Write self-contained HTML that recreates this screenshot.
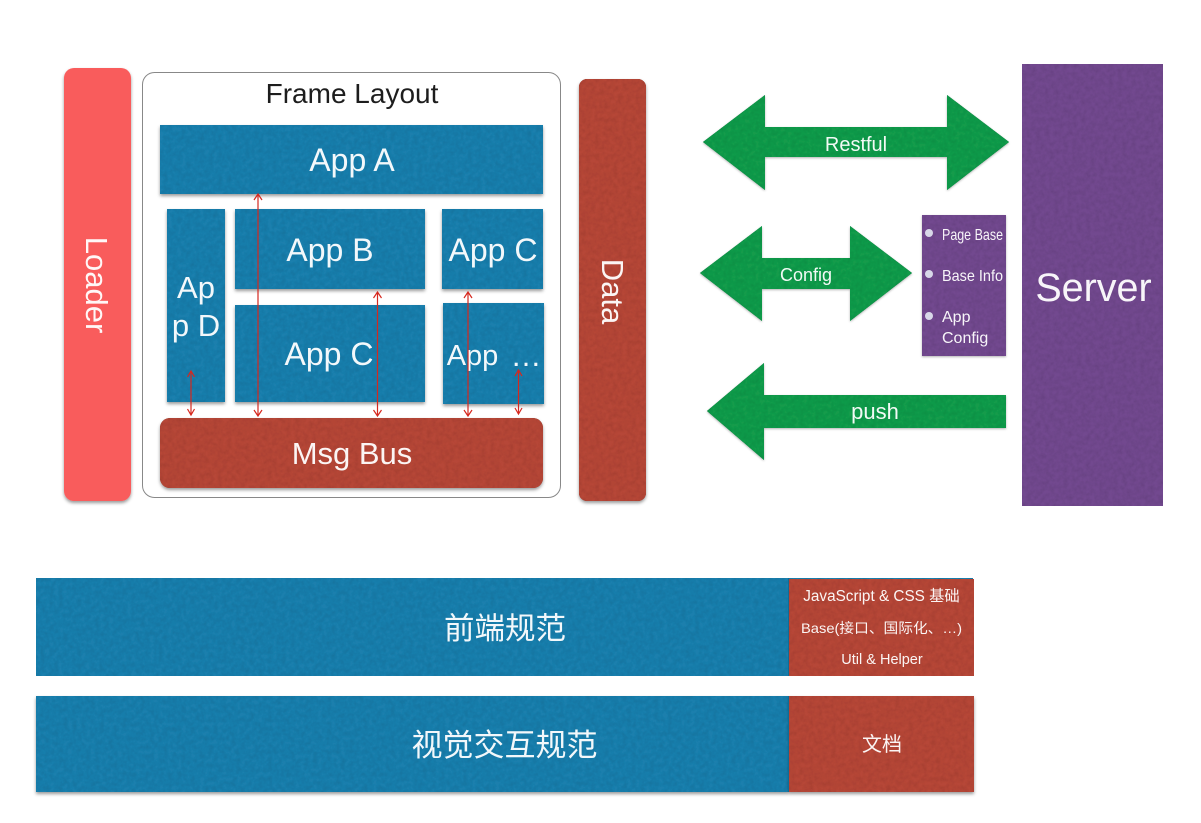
<!DOCTYPE html>
<html><head><meta charset="utf-8"><style>
html,body{margin:0;padding:0;background:#fff;width:1201px;height:823px;overflow:hidden}
svg{display:block}
text{fill:#fff;fill-opacity:.95;font-family:"Liberation Sans","Noto Sans CJK SC",sans-serif;text-anchor:middle}
.b{fill:#1b7fad;filter:url(#s)}.r{fill:#b64737;filter:url(#s)}.g{fill:#149b4b;filter:url(#g)}.p{fill:#72488f}
.a{stroke:#d6281e;stroke-width:1.2;fill:none}
</style></head><body>
<svg width="1201" height="823" viewBox="0 0 1201 823" xmlns="http://www.w3.org/2000/svg">
<defs>
<filter id="d" x="-10%" y="-10%" width="120%" height="120%">
<feDropShadow dx="0" dy="2" stdDeviation="1.500" flood-color="#000" flood-opacity=".4"/>
</filter>
<filter id="s" x="-10%" y="-10%" width="120%" height="120%">
<feTurbulence type="fractalNoise" baseFrequency=".22" numOctaves="3" seed="4" result="n"/>
<feColorMatrix in="n" type="matrix" values="0 0 0 0 0 0 0 0 0 0 0 0 0 0 0 .3 0 0 0 -.1" result="m"/>
<feComposite in="m" in2="SourceAlpha" operator="in" result="t"/>
<feDropShadow in="SourceAlpha" dx="0" dy="2" stdDeviation="1.500" flood-color="#000" flood-opacity=".4" result="sh"/>
<feMerge><feMergeNode in="sh"/><feMergeNode in="SourceGraphic"/><feMergeNode in="t"/></feMerge>
</filter>
<filter id="f" x="-5%" y="-5%" width="110%" height="110%">
<feTurbulence type="fractalNoise" baseFrequency=".22" numOctaves="3" seed="9" result="n"/>
<feColorMatrix in="n" type="matrix" values="0 0 0 0 0 0 0 0 0 0 0 0 0 0 0 .3 0 0 0 -.1" result="m"/>
<feComposite in="m" in2="SourceAlpha" operator="in" result="t"/>
<feMerge><feMergeNode in="SourceGraphic"/><feMergeNode in="t"/></feMerge>
</filter>
<filter id="g" x="-5%" y="-5%" width="110%" height="110%">
<feTurbulence type="fractalNoise" baseFrequency=".25" numOctaves="3" seed="2" result="n"/>
<feColorMatrix in="n" type="matrix" values="0 0 0 0 0 0 0 0 0 0 0 0 0 0 0 .3 0 0 0 -.1" result="m"/>
<feComposite in="m" in2="SourceAlpha" operator="in" result="t"/>
<feDropShadow in="SourceAlpha" dx="0" dy="1" stdDeviation="1" flood-color="#000" flood-opacity=".3" result="sh"/>
<feMerge><feMergeNode in="sh"/><feMergeNode in="SourceGraphic"/><feMergeNode in="t"/></feMerge>
</filter>
</defs>
<rect x="64" y="68" width="67" height="433" rx="10" fill="#f95c5c" filter="url(#d)"/>
<rect x="142.500" y="72.500" width="418" height="425" rx="12" fill="#fff" stroke="#888" stroke-width="1"/>
<text x="352" y="103" font-size="28" style="fill:#111">Frame Layout</text>
<rect class="b" x="160" y="125" width="383" height="69"/>
<rect class="b" x="167" y="209" width="58" height="193"/>
<rect class="b" x="235" y="209" width="190" height="80"/>
<rect class="b" x="235" y="305" width="190" height="97"/>
<rect class="b" x="442" y="209" width="101" height="80"/>
<rect class="b" x="443" y="303" width="101" height="101"/>
<rect class="r" x="160" y="418" width="383" height="70" rx="10"/>
<rect class="r" x="579" y="79" width="67" height="422" rx="8"/>
<rect class="p" x="1022" y="64" width="141" height="442" filter="url(#f)"/>
<rect class="p" x="922" y="215" width="84" height="141" filter="url(#g)"/>
<polygon class="g" points="703,142 765,95 765,127 947,127 947,95 1009,142 947,190 947,157 765,157 765,190"/>
<polygon class="g" points="700,273 762,226 762,258 850,258 850,226 912,273 850,321 850,289 762,289 762,321"/>
<polygon class="g" points="707,411 764,363 764,395 1006,395 1006,428 764,428 764,460"/>
<text x="352" y="171" font-size="32">App A</text>
<text x="330" y="261" font-size="32">App B</text>
<text x="329" y="365" font-size="32">App C</text>
<text x="493" y="261" font-size="32">App C</text>
<text x="196" y="298" font-size="31">Ap</text>
<text x="196" y="336" font-size="31">p D</text>
<text x="472.500" y="365" font-size="29">App</text>
<text x="526" y="366" font-size="31">…</text>
<text x="352" y="464" font-size="31">Msg Bus</text>
<text transform="translate(86,285) rotate(90)" font-size="31">Loader</text>
<text transform="translate(602,291.500) rotate(90)" font-size="31">Data</text>
<text x="1093.500" y="301" font-size="39.500">Server</text>
<text x="856" y="151" font-size="20">Restful</text>
<text x="806" y="281" font-size="18">Config</text>
<text x="875" y="419" font-size="22">push</text>
<circle cx="929" cy="233" r="4" fill="#d8d8e8"/>
<circle cx="929" cy="274" r="4" fill="#d8d8e8"/>
<circle cx="929" cy="316" r="4" fill="#d8d8e8"/>
<g font-size="16">
<text x="942" y="240" style="text-anchor:start" textLength="61" lengthAdjust="spacingAndGlyphs">Page Base</text>
<text x="942" y="281" style="text-anchor:start" textLength="61" lengthAdjust="spacingAndGlyphs">Base Info</text>
<text x="942" y="322" style="text-anchor:start">App</text>
<text x="942" y="343" style="text-anchor:start">Config</text>
</g>
<g class="a">
<path d="M258 194V416M254 200L258 194L262 200M254 410L258 416L262 410"/>
<path d="M377.500 292V416M373.500 298L377.500 292L381.500 298M373.500 410L377.500 416L381.500 410"/>
<path d="M468 292V416M464 298L468 292L472 298M464 410L468 416L472 410"/>
<path d="M191 371V415M187.500 377L191 371L194.500 377M187.500 409L191 415L194.500 409"/>
<path d="M518.500 370V414M515 376L518.500 370L522 376M515 408L518.500 414L522 408"/>
</g>
<rect x="36" y="578" width="937" height="98" fill="#1b7fad" filter="url(#f)"/>
<rect x="789" y="579" width="185" height="97" fill="#b64737" filter="url(#f)"/>
<rect class="b" x="36" y="696" width="753" height="96"/>
<rect class="r" x="789" y="696" width="185" height="96"/>
<rect x="788" y="578" width="1" height="98" fill="#106c96"/>
<rect x="788" y="696" width="1" height="96" fill="#106c96"/>
<text x="505" y="639" font-size="30.500">前端规范</text>
<text x="504.500" y="756" font-size="31">视觉交互规范</text>
<text x="882" y="751" font-size="20">文档</text>
<text x="881.500" y="601" font-size="15.300">JavaScript &amp; CSS 基础</text>
<text x="881.500" y="633" font-size="14" textLength="161" lengthAdjust="spacingAndGlyphs">Base(接口、国际化、…)</text>
<text x="882" y="664" font-size="14.500" fill-opacity=".85">Util &amp; Helper</text>
</svg>
</body></html>
